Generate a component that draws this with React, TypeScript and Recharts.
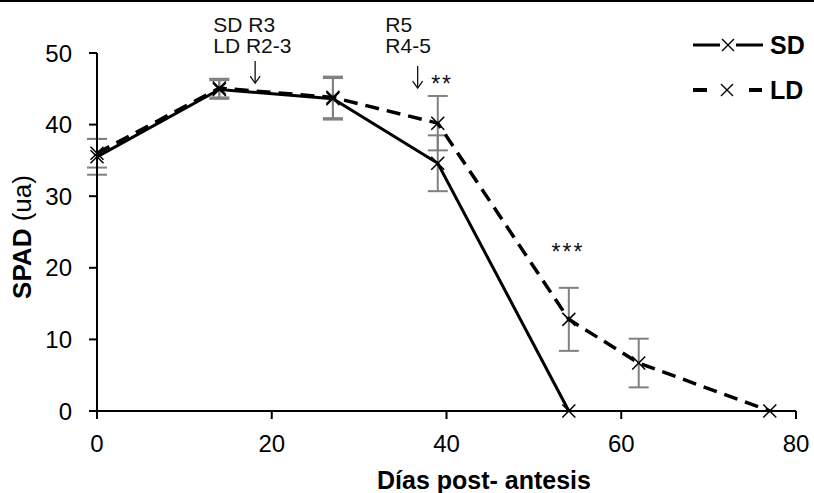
import { LineChart, Line, XAxis, YAxis, ErrorBar, ReferenceDot } from 'recharts';

const FONT = '"Liberation Sans", Arial, sans-serif';

// días post-antesis
const sdDays = [0, 14, 27, 39, 54];
const sdSpad = [35.5, 44.9, 43.6, 34.6, 0];
const sdErr = [2.5, 1.3, 2.9, 3.9, 0];

const ldDays = [0, 14, 27, 39, 54, 62, 77];
const ldSpad = [36.0, 45.1, 43.8, 40.2, 12.8, 6.7, 0];
const ldErr = [2.0, 1.3, 2.9, 3.8, 4.4, 3.4, 0];

const xTicks = [0, 20, 40, 60, 80];
const yTicks = [0, 10, 20, 30, 40, 50];

const sdData = sdDays.map((d, i) => ({ dias: d, spad: sdSpad[i], err: sdErr[i] }));
const ldData = ldDays.map((d, i) => ({ dias: d, spad: ldSpad[i], err: ldErr[i] }));

const Cross = (props: any) => {
  const { cx, cy, index } = props;
  if (cx == null || cy == null) return null;
  const s = 6.5;
  return (
    <path
      key={`x-${index}`}
      d={`M${cx - s},${cy - s}L${cx + s},${cy + s}M${cx - s},${cy + s}L${cx + s},${cy - s}`}
      stroke="#000"
      strokeWidth={1.5}
      fill="none"
    />
  );
};

// leyenda dibujada a mano (posición fija arriba a la derecha)
const LegendBox = () => (
  <svg width={120} height={80} style={{ display: 'block' }}>
    <line x1={1} y1={14} x2={71} y2={14} stroke="#000" strokeWidth={3} />
    <rect x={28} y={6} width={16} height={16} fill="#fff" />
    <path d="M30,8L42,20M30,20L42,8" stroke="#000" strokeWidth={1.4} />
    <text x={78} y={23} fontFamily={FONT} fontSize={25} fontWeight="bold">SD</text>
    <line x1={1} y1={59} x2={15} y2={59} stroke="#000" strokeWidth={4} />
    <path d="M29,53L41,65M29,65L41,53" stroke="#000" strokeWidth={1.4} />
    <line x1={57} y1={59} x2={70} y2={59} stroke="#000" strokeWidth={4} />
    <text x={78} y={68} fontFamily={FONT} fontSize={25} fontWeight="bold">LD</text>
  </svg>
);

const note = (lines: string[], anchor: 'start' | 'middle' = 'start', size = 21, spacing = 0) => (p: any) => (
  <text x={p.cx} y={p.cy} fontFamily={FONT} fontSize={size} fill="#111" textAnchor={anchor} letterSpacing={spacing}>
    {lines.map((l, i) => (
      <tspan key={i} x={p.cx} dy={i === 0 ? 0 : 21}>
        {l}
      </tspan>
    ))}
  </text>
);

const arrow = (p: any) => (
  <g>
    <line x1={p.cx} y1={p.cy - 22} x2={p.cx} y2={p.cy} stroke="#111" strokeWidth={1.3} />
    <path d={`M${p.cx - 5},${p.cy - 7}L${p.cx},${p.cy}L${p.cx + 5},${p.cy - 7}`} stroke="#111" strokeWidth={1.3} fill="none" />
  </g>
);

export default function App() {
  return (
    <div style={{ position: 'absolute', left: 0, top: 0, width: 814, height: 493, background: '#fff' }}>
      <div style={{ position: 'absolute', left: 0, top: 0, width: 814, height: 2, background: '#000' }} />
      <div style={{ position: 'absolute', left: 692, top: 31 }}>
        <LegendBox />
      </div>
      <LineChart width={814} height={493} margin={{ top: 53, right: 18, left: 0, bottom: 0 }}>
        <XAxis
          type="number"
          dataKey="dias"
          domain={[0, 80]}
          ticks={xTicks}
          allowDuplicatedCategory={false}
          height={82}
          tickSize={8}
          tickMargin={16}
          axisLine={{ stroke: '#000', strokeWidth: 2 }}
          tickLine={{ stroke: '#000', strokeWidth: 2 }}
          tick={{ fill: '#000', fontSize: 24, fontFamily: FONT }}
          label={{
            content: () => (
              <text x={484} y={489} textAnchor="middle" fontFamily={FONT} fontSize={25} fontWeight="bold" fill="#000">
                Días post- antesis
              </text>
            ),
          }}
        />
        <YAxis
          type="number"
          domain={[0, 50]}
          ticks={yTicks}
          width={97}
          tickSize={8}
          tickMargin={17}
          axisLine={{ stroke: '#000', strokeWidth: 2 }}
          tickLine={{ stroke: '#000', strokeWidth: 2 }}
          tick={{ fill: '#000', fontSize: 24, fontFamily: FONT }}
          label={{
            content: () => (
              <text
                x={22}
                y={237}
                transform="rotate(-90, 22, 237)"
                textAnchor="middle"
                dominantBaseline="central"
                fontFamily={FONT}
                fontSize={26}
                fill="#000"
              >
                <tspan fontWeight="bold">SPAD</tspan>
                <tspan> (ua)</tspan>
              </text>
            ),
          }}
        />
        <Line
          data={sdData}
          dataKey="spad"
          name="SD"
          stroke="#000"
          strokeWidth={3}
          dot={<Cross />}
          activeDot={false}
          isAnimationActive={false}
        >
          <ErrorBar dataKey="err" direction="y" width={10} stroke="#808080" strokeWidth={2} />
        </Line>
        <Line
          data={ldData}
          dataKey="spad"
          name="LD"
          stroke="#000"
          strokeWidth={3.5}
          strokeDasharray="14 8"
          dot={<Cross />}
          activeDot={false}
          isAnimationActive={false}
        >
          <ErrorBar dataKey="err" direction="y" width={10} stroke="#808080" strokeWidth={2} />
        </Line>
        <ReferenceDot x={13.3} y={52.9} r={0} ifOverflow="visible" shape={note(['SD R3', 'LD R2-3'])} />
        <ReferenceDot x={18.1} y={45.8} r={0} ifOverflow="visible" shape={arrow} />
        <ReferenceDot x={33.0} y={52.9} r={0} ifOverflow="visible" shape={note(['R5', 'R4-5'])} />
        <ReferenceDot x={36.7} y={45.1} r={0} ifOverflow="visible" shape={arrow} />
        <ReferenceDot x={39.5} y={44.5} r={0} ifOverflow="visible" shape={note(['**'], 'middle', 23, 2)} />
        <ReferenceDot x={53.9} y={21.1} r={0} ifOverflow="visible" shape={note(['***'], 'middle', 23, 2)} />
      </LineChart>
    </div>
  );
}
